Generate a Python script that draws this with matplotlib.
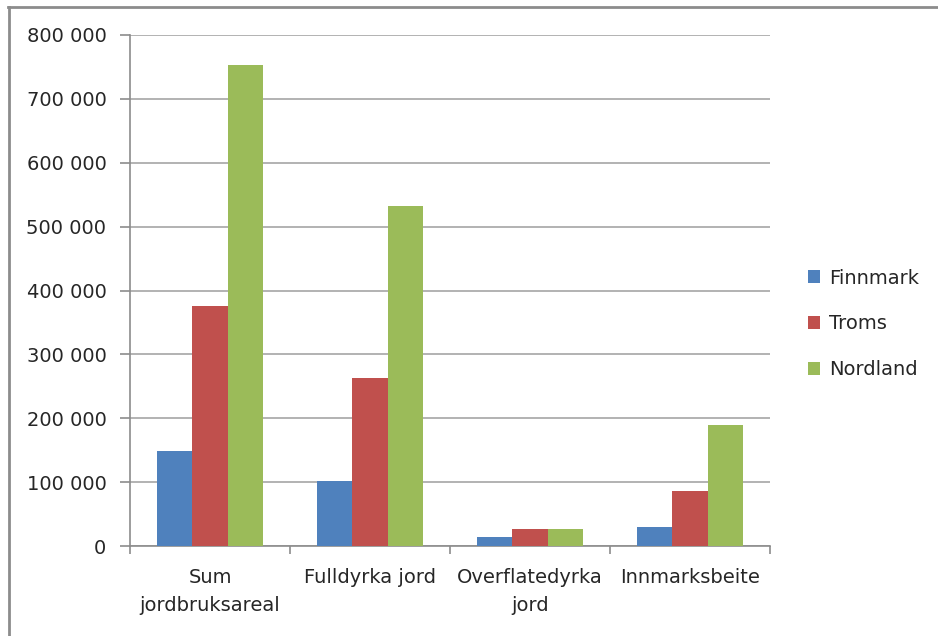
import matplotlib
matplotlib.use("Agg")
import matplotlib.pyplot as plt
from matplotlib.lines import Line2D
from matplotlib.patches import Patch
from matplotlib.ticker import FuncFormatter
import numpy as np

plt.rcParams['font.family'] = ['DejaVu Sans']

# Data (areal, dekar)
categories = ["Sum\njordbruksareal", "Fulldyrka jord", "Overflatedyrka\njord", "Innmarksbeite"]
series_names = ["Finnmark", "Troms", "Nordland"]
finnmark = [148000, 102000, 14000, 29000]
troms = [376000, 263000, 27000, 86000]
nordland = [753000, 532000, 27000, 189000]
colors = ["#4F81BD", "#C0504D", "#9BBB59"]

FS = 14
W, H = 938, 636
fig = plt.figure(figsize=(W / 100, H / 100), dpi=100)
fig.patch.set_facecolor("white")

# axes box in pixels: x 130..770, y 35..546
ax = fig.add_axes([130 / W, 1 - 546 / H, 640 / W, 511 / H])

x = np.arange(len(categories))
bw = 1 / 4.5
for i, (vals, name) in enumerate(zip([finnmark, troms, nordland], series_names)):
    ax.bar(x + (i - 1) * bw, vals, width=bw, color=colors[i], label=name, zorder=3)

ax.set_xlim(-0.5, len(categories) - 0.5)
ax.set_ylim(0, 800000)
ax.set_yticks(np.arange(0, 800001, 100000))
ax.yaxis.set_major_formatter(FuncFormatter(lambda v, p: f"{int(v):,}".replace(",", " ")))
ax.grid(axis="y", color="#A6A6A6", linewidth=1.2, zorder=0)

ax.set_xticks(x)
ax.set_xticklabels(categories, fontsize=FS, color="#262626", linespacing=1.6)
ax.set_xticks(np.arange(-0.5, len(categories)), minor=True)
ax.tick_params(axis="x", which="major", length=0, pad=16)
ax.tick_params(axis="x", which="minor", length=6, width=1.2, color="#8C8C8C", direction="out")
ax.tick_params(axis="y", length=7, width=1.2, color="#8C8C8C", labelsize=FS,
               labelcolor="#262626", pad=10)

for s in ["top", "right"]:
    ax.spines[s].set_visible(False)
for s in ["left", "bottom"]:
    ax.spines[s].set_color("#8C8C8C")
    ax.spines[s].set_linewidth(1.2)

handles = [Patch(facecolor=c, edgecolor="none", label=n) for c, n in zip(colors, series_names)]
fig.legend(handles=handles, loc="center left", bbox_to_anchor=(790 / W, 1 - 324 / H),
           frameon=False, fontsize=FS, handlelength=0.65, handleheight=0.65,
           handletextpad=0.45, labelspacing=1.38, labelcolor="#262626")

# outer chart frame (top and left edges visible)
fig.add_artist(Line2D([8 / W, 1], [1 - 7 / H, 1 - 7 / H], transform=fig.transFigure,
                      color="#8C8C8C", linewidth=2))
fig.add_artist(Line2D([9 / W, 9 / W], [0, 1 - 7 / H], transform=fig.transFigure,
                      color="#8C8C8C", linewidth=2))

fig.savefig("out.png", dpi=100)
